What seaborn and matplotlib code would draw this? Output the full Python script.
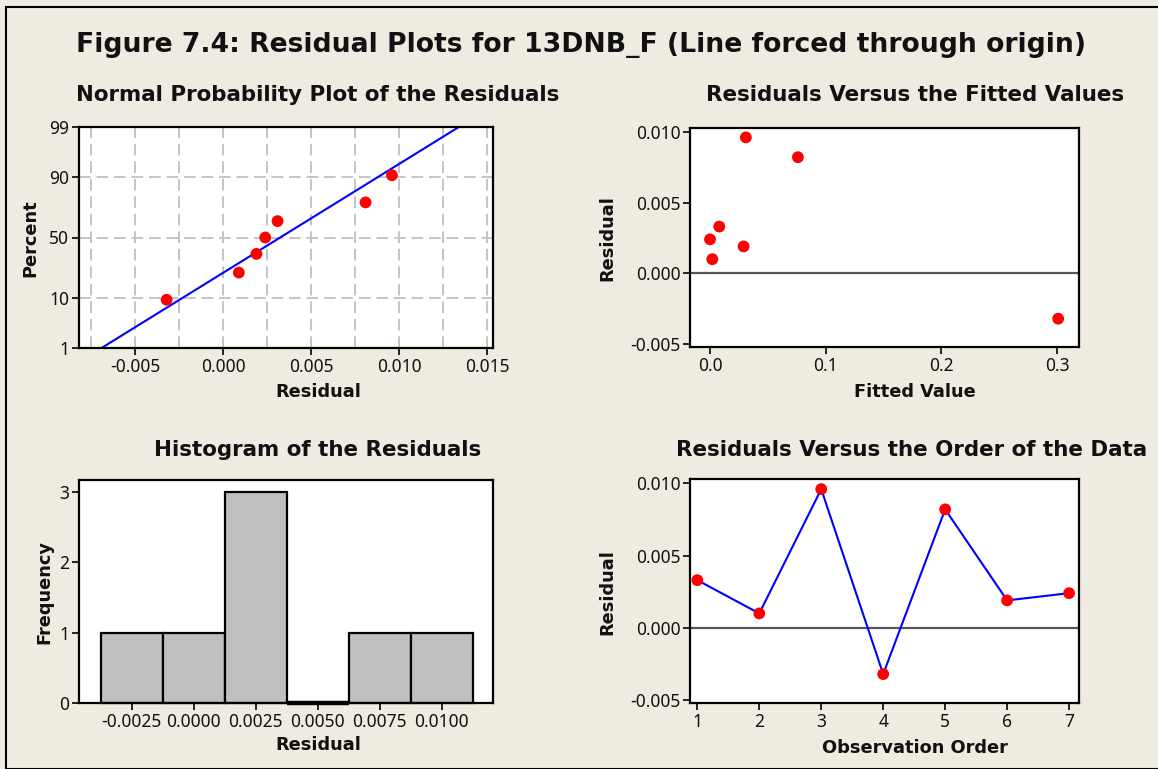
import numpy as np
import pandas as pd
import seaborn as sns
import matplotlib.pyplot as plt
from matplotlib.patches import Rectangle
from statistics import NormalDist

# Residuals in observation order, and their fitted values
obs_order = [1, 2, 3, 4, 5, 6, 7]
residuals = [0.0033, 0.0010, 0.0096, -0.0032, 0.0082, 0.0019, 0.0024]
fitted = [0.008, 0.002, 0.031, 0.301, 0.076, 0.029, 0.000]

# Normal probability plot: sorted residuals and their plotting percents
prob_residual = [-0.0032, 0.0009, 0.0019, 0.0024, 0.0031, 0.0081, 0.0096]
prob_percent = [9.5, 23.0, 36.5, 50.0, 63.5, 77.0, 90.5]
fit_residual = [-0.0069, 0.0134]
fit_percent = [1, 99]
pct_ticks = [1, 10, 50, 90, 99]

# Histogram bins
hist_edges = [-0.00375, -0.00125, 0.00125, 0.00375, 0.00625, 0.00875, 0.01125]
hist_ticks = [-0.0025, 0.0, 0.0025, 0.005, 0.0075, 0.01]

W, H = 1158, 769
BG = '#EFEBE0'
TICK_FONT = ['Noto Sans', 'DejaVu Sans']

sns.set_theme(style='white')
plt.rcParams['font.family'] = ['DejaVu Sans']
plt.rcParams['axes.linewidth'] = 1.5
plt.rcParams['axes.edgecolor'] = 'black'
plt.rcParams['xtick.direction'] = 'out'
plt.rcParams['ytick.direction'] = 'out'

fig = plt.figure(figsize=(W / 100, H / 100), dpi=100, facecolor=BG)
fig.patches.append(Rectangle((6 / W, 0), 2, 1 - 7 / H, transform=fig.transFigure,
                             fill=False, edgecolor='black', lw=1.5))


def box(left, top, right, bottom):
    return [left / W, 1 - bottom / H, (right - left) / W, (bottom - top) / H]


def style(ax):
    ax.set_facecolor('white')
    for s in ax.spines.values():
        s.set_visible(True)
        s.set_color('black')
        s.set_linewidth(1.6)
    ax.tick_params(axis='both', which='major', length=5, width=1.2, color='black',
                   labelsize=12.5, pad=2, bottom=True, left=True, labelcolor='#111111')
    for lab in ax.get_xticklabels() + ax.get_yticklabels():
        lab.set_family(TICK_FONT)
    ax.set_xlabel('')
    ax.set_ylabel('')


ax1 = fig.add_axes(box(79, 127, 493, 348))
ax2 = fig.add_axes(box(690, 128, 1079, 347))
ax3 = fig.add_axes(box(79, 480, 493, 703))
ax4 = fig.add_axes(box(690, 479, 1079, 703))

# --- Normal probability plot ---
nd = NormalDist()


def _ppf(p):
    if not np.isfinite(p):
        return np.nan
    return nd.inv_cdf(min(max(p, 0.0001), 0.9999))


def _cdf(z):
    if not np.isfinite(z):
        return np.nan
    return nd.cdf(z)


ppf_v = np.vectorize(_ppf, otypes=[float])
cdf_v = np.vectorize(_cdf, otypes=[float])


def fwd(p):
    return ppf_v(np.asarray(p, dtype=float) / 100)


def inv(z):
    return cdf_v(np.asarray(z, dtype=float)) * 100


ax1.set_yscale('function', functions=(fwd, inv))
for xv in np.arange(-0.0075, 0.0151, 0.0025):
    ax1.axvline(xv, color='#C4C4C4', lw=1.4, ls=(0, (6, 3)), zorder=0)
for pv in [10, 50, 90]:
    ax1.axhline(pv, color='#C4C4C4', lw=1.4, ls=(0, (6, 3)), zorder=0)
sns.lineplot(x=fit_residual, y=fit_percent, ax=ax1, color='#0000FF', lw=1.5, zorder=2)
sns.scatterplot(x=prob_residual, y=prob_percent, ax=ax1, color='#FF0000', s=72,
                edgecolor='none', zorder=3)
ax1.set_xlim(-0.00818, 0.01534)
ax1.set_ylim(1, 99)
ax1.set_yticks(pct_ticks)
ax1.set_yticklabels([str(p) for p in pct_ticks])
ax1.minorticks_off()
ax1.set_xticks([-0.005, 0.0, 0.005, 0.010, 0.015])
ax1.set_xticklabels(['-0.005', '0.000', '0.005', '0.010', '0.015'])
style(ax1)

# --- Residuals vs fitted ---
ax2.axhline(0, color='#555555', lw=1.6, zorder=1)
sns.scatterplot(x=fitted, y=residuals, ax=ax2, color='#FF0000', s=72,
                edgecolor='none', zorder=3)
ax2.set_xlim(-0.0173, 0.319)
ax2.set_ylim(-0.0052, 0.01026)
ax2.set_xticks([0.0, 0.1, 0.2, 0.3])
ax2.set_xticklabels(['0.0', '0.1', '0.2', '0.3'])
ax2.set_yticks([-0.005, 0.0, 0.005, 0.010])
ax2.set_yticklabels(['-0.005', '0.000', '0.005', '0.010'])
style(ax2)

# --- Histogram ---
sns.histplot(x=residuals, bins=hist_edges, ax=ax3, color='#C0C0C0', alpha=1,
             edgecolor='black', linewidth=1.6)
ax3.set_xlim(-0.00463, 0.01207)
ax3.set_ylim(0, 3.17)
ax3.set_yticks([0, 1, 2, 3])
ax3.set_xticks(hist_ticks)
ax3.set_xticklabels(['-0.0025', '0.0000', '0.0025', '0.0050', '0.0075', '0.0100'])
style(ax3)
for p in ax3.patches:
    p.set_clip_on(False)
    # empty bins show up as a heavier line on the baseline
    if p.get_height() == 0:
        p.set_linewidth(3.2)
        p.set_zorder(4)

# --- Residuals vs order ---
ax4.axhline(0, color='#555555', lw=1.6, zorder=1)
sns.lineplot(x=obs_order, y=residuals, ax=ax4, color='#0000FF', lw=1.5, zorder=2)
sns.scatterplot(x=obs_order, y=residuals, ax=ax4, color='#FF0000', s=72,
                edgecolor='none', zorder=3)
ax4.set_xlim(0.882, 7.16)
ax4.set_ylim(-0.0052, 0.0103)
ax4.set_xticks(obs_order)
ax4.set_yticks([-0.005, 0.0, 0.005, 0.010])
ax4.set_yticklabels(['-0.005', '0.000', '0.005', '0.010'])
style(ax4)

# --- Texts ---
def ftext(x, y, s, size, rot=0):
    fig.text(x / W, 1 - y / H, s, ha='center', va='center', fontsize=size,
             fontweight='bold', rotation=rot, color='#111111')


ftext(581, 45, 'Figure 7.4: Residual Plots for 13DNB_F (Line forced through origin)', 19.2)
ftext(318, 95, 'Normal Probability Plot of the Residuals', 15.4)
ftext(915, 95, 'Residuals Versus the Fitted Values', 15.4)
ftext(318, 450, 'Histogram of the Residuals', 15.4)
ftext(912, 450, 'Residuals Versus the Order of the Data', 15.4)

ftext(318, 392, 'Residual', 12.8)
ftext(30, 238, 'Percent', 12.8, 90)
ftext(915, 392, 'Fitted Value', 12.8)
ftext(607, 238, 'Residual', 12.8, 90)
ftext(318, 745, 'Residual', 12.8)
ftext(44, 592, 'Frequency', 12.8, 90)
ftext(915, 748, 'Observation Order', 12.8)
ftext(607, 592, 'Residual', 12.8, 90)

fig.savefig('out.png', dpi=100, facecolor=BG)
